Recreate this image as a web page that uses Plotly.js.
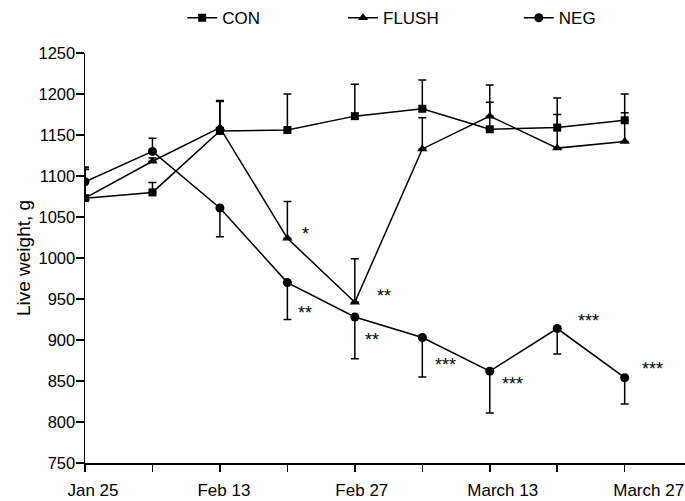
<!DOCTYPE html>
<html>
<head>
<meta charset="utf-8">
<script src="https://cdn.plot.ly/plotly-3.0.1.min.js"></script>
<style>html,body{margin:0;padding:0;background:#fff;}#chart{width:685px;height:501px;}</style>
</head>
<body>
<div id="chart"></div>
<script>
// ---- data ----
const weekIndex = [0, 1, 2, 3, 4, 5, 6, 7, 8];
const labelWeeks = [0, 2, 4, 6, 8];
const tickLabels = ['Jan 25', 'Feb 13', 'Feb 27', 'March 13', 'March 27'];

const conWeight   = [1073, 1080, 1155, 1156, 1173, 1182, 1157, 1159, 1168];
const conErrUp    = [35, 12, 36, 44, 39, 35, 33, 36, 32];

const flushWeight = [1073, 1118, 1159, 1024, 946, 1133, 1173, 1134, 1142];
const flushErrUp  = [37, 4, 33, 45, 53, 38, 38, 41, 35];

const negWeight   = [1093, 1130, 1061, 970, 928, 903, 862, 914, 854];
const negErrUp    = [18, 16, 0, 0, 0, 0, 0, 0, 0];
const negErrDown  = [0, 0, 35, 45, 51, 48, 51, 31, 32];

// significance marks (x in week index units, y in g)
const sigText = ['*', '**', '**', '**', '***', '***', '***', '***'];
const sigX    = [3.27, 4.43, 3.26, 4.26, 5.34, 6.34, 7.46, 8.41];
const sigY    = [1034, 959, 938, 905, 874, 851, 928, 870];

// ---- style / layout ----
const labelShiftPx = [8, 4, 7, 13, 24];   // labels in the original sit a little right of their ticks
const plotW = 600, xMax = 8.894;
const zeros = weekIndex.map(() => 0);
const FONT = '"Liberation Sans", Arial, sans-serif';

function series(name, y, up, down, symbol, size, legendId) {
  return {
    type: 'scatter', mode: 'lines+markers', name: name, x: weekIndex, y: y,
    legend: legendId,
    line: {color: '#000', width: 1.5},
    marker: {symbol: symbol, size: size, color: '#000'},
    error_y: {type: 'data', symmetric: false, array: up, arrayminus: down,
              color: '#000', thickness: 1.5, width: 4}
  };
}

const labelPos = labelWeeks.map((w, i) => w + labelShiftPx[i] * xMax / plotW);

const traces = [
  series('CON', conWeight, conErrUp, zeros, 'square', 8, 'legend'),
  series('FLUSH', flushWeight, flushErrUp, zeros, 'triangle-up', 9, 'legend2'),
  series('NEG', negWeight, negErrUp, negErrDown, 'circle', 9, 'legend3'),
  // empty helper trace so the label axis (x2) gets drawn
  {type: 'scatter', mode: 'markers', x: labelPos, y: labelPos.map(() => null),
   xaxis: 'x2', yaxis: 'y', showlegend: false, hoverinfo: 'skip'}
];

const annotations = sigText.map((t, i) => ({
  x: sigX[i], y: sigY[i], xref: 'x', yref: 'y', text: t, showarrow: false,
  xanchor: 'center', yanchor: 'middle', yshift: -4,
  font: {family: FONT, size: 18, color: '#000'}
}));

const legendBase = {orientation: 'h', yanchor: 'middle', xanchor: 'left', y: 1.085,
  bgcolor: 'rgba(0,0,0,0)', borderwidth: 0, font: {family: FONT, size: 17, color: '#000'}};

const layout = {
  width: 685, height: 501,
  margin: {l: 85, r: 0, t: 53, b: 38, autoexpand: false},
  paper_bgcolor: '#fff', plot_bgcolor: '#fff',
  font: {family: FONT, color: '#000'},
  showlegend: true,
  legend:  Object.assign({}, legendBase, {x: 0.162}),
  legend2: Object.assign({}, legendBase, {x: 0.430}),
  legend3: Object.assign({}, legendBase, {x: 0.723}),
  xaxis: {
    range: [0, xMax], showgrid: false, zeroline: false,
    showline: true, linecolor: '#000', linewidth: 1.5,
    ticks: 'outside', ticklen: 7, tickwidth: 1.5, tickcolor: '#000',
    tickmode: 'array', tickvals: weekIndex, showticklabels: false
  },
  xaxis2: {
    overlaying: 'x', anchor: 'y', side: 'bottom',
    range: [0, xMax], showgrid: false, zeroline: false, showline: false,
    ticks: '', tickmode: 'array', tickvals: labelPos, ticktext: tickLabels,
    ticklabelstandoff: 15,
    tickfont: {family: FONT, size: 17, color: '#000'}
  },
  yaxis: {
    range: [750, 1250], showgrid: false, zeroline: false,
    showline: true, linecolor: '#000', linewidth: 1.5,
    ticks: 'outside', ticklen: 8, tickwidth: 1.5, tickcolor: '#000',
    tickmode: 'linear', tick0: 750, dtick: 50,
    ticklabelstandoff: -3,
    tickfont: {family: FONT, size: 16.5, color: '#000'},
    title: {text: 'Live weight, g', font: {family: FONT, size: 19, color: '#000'}, standoff: 3}
  },
  annotations: annotations
};

Plotly.newPlot('chart', traces, layout, {displayModeBar: false, staticPlot: true});
</script>
</body>
</html>
